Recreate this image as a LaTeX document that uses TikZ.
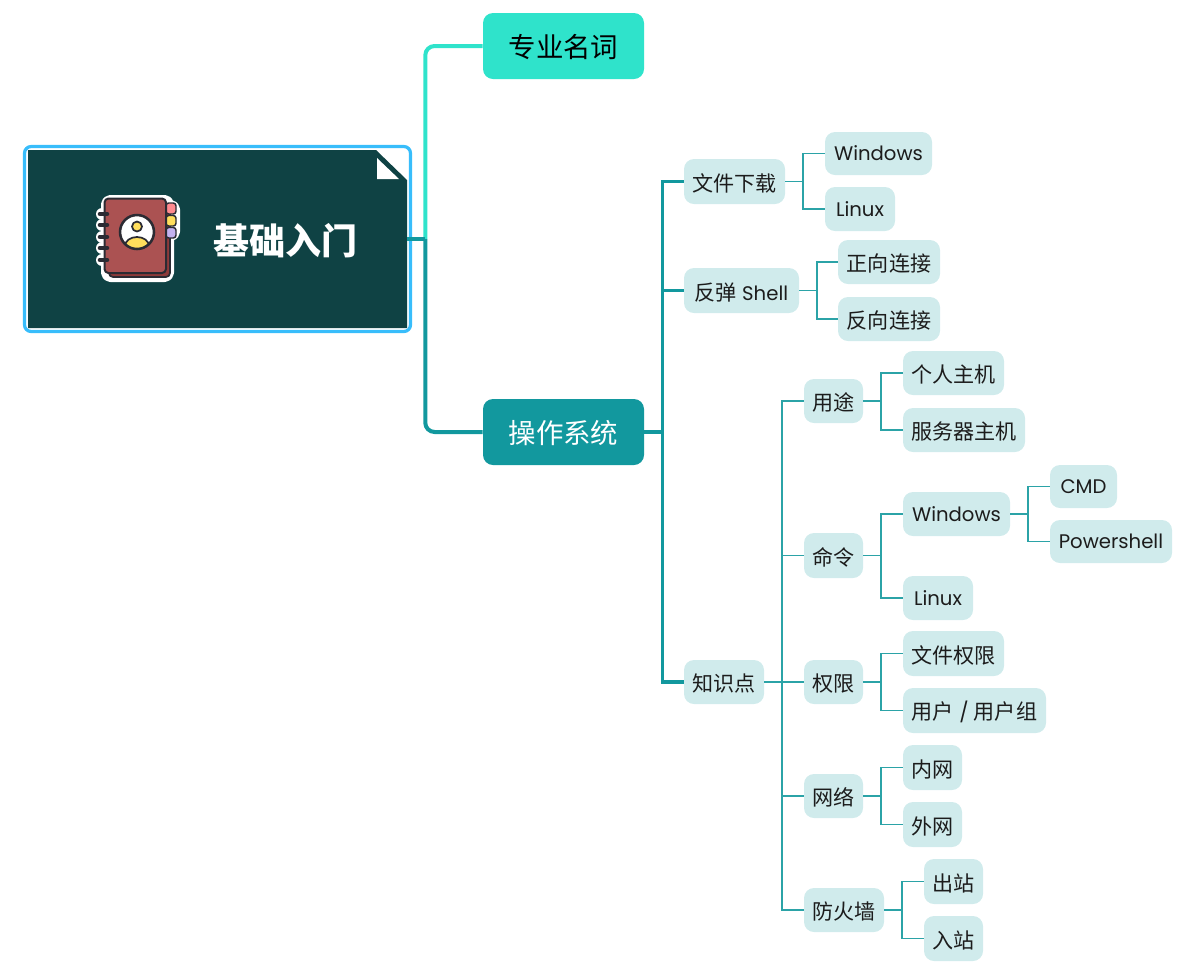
\documentclass[tikz,border=0pt]{standalone}
\usepackage{fontspec}
\setmainfont{Poppins}[Scale=0.97]
\newfontfamily\cjk{Noto Sans CJK SC}
\definecolor{rootbg}{HTML}{0F4244}
\definecolor{rootedge}{HTML}{38BDFB}
\definecolor{topicA}{HTML}{2FE3CB}
\definecolor{topicB}{HTML}{12989E}
\definecolor{leaffill}{HTML}{D0EBEC}
\definecolor{leafline}{HTML}{2BA3A7}
\definecolor{leaftext}{HTML}{1C1C1C}
\definecolor{bookred}{HTML}{AB5252}
\definecolor{bookback}{HTML}{8E3A3A}
\definecolor{bookdark}{HTML}{2B2B33}
\definecolor{tabpink}{HTML}{FF8A8F}
\definecolor{tabyellow}{HTML}{FFDE5C}
\definecolor{tabviolet}{HTML}{C4B2F0}
\newcommand\boxnode[7][leaf]{%
  \pgfmathsetmacro\bw{(#5-#3)*0.75}%
  \pgfmathsetmacro\bh{(#6-#4)*0.75}%
  \node[#1,minimum width=\bw pt,minimum height=\bh pt] (#2) at ({(#3+#5)/2},{(#4+#6)/2}) {#7};}
\newcommand\zh[1]{{\cjk\fontsize{15.8pt}{18pt}\selectfont\rule{0pt}{16.2pt}#1}}
\tikzset{
  x=0.75pt,y=-0.75pt,
  leaf/.style={fill=leaffill,rounded corners=7.5pt,inner sep=0pt,text=leaftext,font=\fontsize{15.2pt}{18pt}\selectfont},
  topic/.style={rounded corners=7.5pt,inner sep=0pt,text height=20.8pt,text depth=3pt,font=\cjk\fontsize{20.6pt}{24pt}\selectfont},
  stubline/.style={line width=3pt,color=topicB},
  bigline/.style={line width=3pt,rounded corners=7pt},
  midline/.style={line width=2.6pt,color=topicB},
  thinline/.style={line width=1.4pt,color=leafline},
}
\begin{document}
\begin{tikzpicture}
\useasboundingbox (0,0) rectangle (1204,976);
% root card
\draw[rootedge,line width=2.4pt,fill=white,rounded corners=5pt] (24.5,146.5) rectangle (410.5,331.5);
\fill[rootbg] (28,150) -- (376,150) -- (407,180) -- (407,328) -- (28,328) -- cycle;
\fill[white] (377,158) -- (377,179) -- (399,179) -- cycle;
\node[minimum width=284.25pt,minimum height=133.5pt,inner sep=0pt] (root) at (217.5,239) {};
\node[text=white,inner sep=0pt,font=\cjk\bfseries\fontsize{27pt}{32pt}\selectfont] (rootlabel) at (285,241) {基础入门};
% book icon
\begin{scope}[line join=round,line cap=round]
  \begin{scope}[white,line width=6pt]
    \draw[rounded corners=4pt,fill=white] (165,204) rectangle (176,237);
    \draw[rounded corners=4pt,fill=white] (105,199) rectangle (170,278);
    \foreach \ry in {214,225,237,248,260} \draw[line width=9pt] (102,\ry) -- (106,\ry);
  \end{scope}
  \draw[bookdark,line width=1.3pt,fill=bookback,rounded corners=3pt] (109,204) rectangle (170,277);
  \draw[bookdark,line width=1.1pt,fill=tabpink,rounded corners=2pt] (166,203) rectangle (176,214);
  \draw[bookdark,line width=1.1pt,fill=tabyellow,rounded corners=2pt] (166,215.5) rectangle (176,226);
  \draw[bookdark,line width=1.1pt,fill=tabviolet,rounded corners=2pt] (166,227.5) rectangle (176,238);
  \draw[bookdark,line width=1.5pt,fill=bookred,rounded corners=3pt] (104.5,198.5) rectangle (166,273);
  \foreach \ry in {214,225,237,248,260} \draw[bookdark,line width=3.4pt] (100,\ry) -- (107,\ry);
  \fill[white] (137,232) circle (16);
  \begin{scope}
    \clip (137,232) circle (16);
    \fill[tabyellow] (137,246) ellipse (12 and 9);
    \draw[bookdark,line width=1.3pt] (137,246) ellipse (12 and 9);
  \end{scope}
  \draw[tabyellow,fill=tabyellow] (137,226.5) circle (4.5);
  \draw[bookdark,line width=1.3pt] (137,226.5) circle (5);
  \draw[bookdark,line width=1.9pt] (137,232) circle (17);
\end{scope}
% main topics
\boxnode[topic,fill=topicA,text=black]{tspec}{483}{13}{644}{79}{专业名词}
\boxnode[topic,fill=topicB,text=white]{tos}{483}{399}{644}{465}{操作系统}
% leaves
\boxnode{dl}{684}{159}{785}{204}{\zh{文件下载}}
\boxnode{dlw}{825}{132}{932}{175}{Windows}
\boxnode{dll}{825}{187}{895}{231}{Linux}
\boxnode{sh}{684}{268}{799}{313}{\zh{反弹} Shell}
\boxnode{shf}{838}{240}{940}{284}{\zh{正向连接}}
\boxnode{shr}{838}{297}{940}{341}{\zh{反向连接}}
\boxnode{kn}{684}{660}{764}{704}{\zh{知识点}}
\boxnode{use}{804}{379}{863}{423}{\zh{用途}}
\boxnode{usep}{903}{351}{1004}{395}{\zh{个人主机}}
\boxnode{uses}{903}{408}{1025}{452}{\zh{服务器主机}}
\boxnode{cmd}{804}{533}{863}{578}{\zh{命令}}
\boxnode{cmdw}{903}{492}{1010}{536}{Windows}
\boxnode{cmdc}{1050}{465}{1117}{508}{CMD}
\boxnode{cmdp}{1050}{520}{1172}{563}{Powershell}
\boxnode{cmdl}{903}{576}{973}{620}{Linux}
\boxnode{perm}{804}{660}{863}{704}{\zh{权限}}
\boxnode{permf}{903}{631}{1004}{676}{\zh{文件权限}}
\boxnode{permu}{903}{688}{1046}{733}{\zh{用户} / \zh{用户组}}
\boxnode{net}{804}{774}{863}{818}{\zh{网络}}
\boxnode{neti}{903}{745}{962}{790}{\zh{内网}}
\boxnode{nete}{903}{802}{962}{847}{\zh{外网}}
\boxnode{fw}{804}{888}{884}{932}{\zh{防火墙}}
\boxnode{fwo}{924}{859}{983}{904}{\zh{出站}}
\boxnode{fwi}{924}{916}{983}{961}{\zh{入站}}
% connectors
\path (root.east) ++(18,0) coordinate (hub);
\path (tos.east) ++(18,0) coordinate (oshub);
\draw[bigline,topicA] (hub) |- (tspec.west);
\draw[bigline,topicB] (hub) |- (tos.west);
\draw[stubline] (root.east) -- (hub);
\draw[midline] (tos.east) -- (oshub) |- (dl.west);
\draw[midline] (tos.east) -- (oshub) |- (sh.west);
\draw[midline] (tos.east) -- (oshub) |- (kn.west);
\foreach \a/\b in {dl/dlw,dl/dll} \draw[thinline] (\a.east) -- ++(18,0) |- (\b.west);
\foreach \a/\b in {sh/shf,sh/shr} \draw[thinline] (\a.east) -- ++(18,0) |- (\b.west);
\foreach \b in {use,cmd,perm,net,fw} \draw[thinline] (kn.east) -- ++(18,0) |- (\b.west);
\foreach \a/\b in {use/usep,use/uses,cmd/cmdw,cmd/cmdl,cmdw/cmdc,cmdw/cmdp,perm/permf,perm/permu,net/neti,net/nete,fw/fwo,fw/fwi} \draw[thinline] (\a.east) -- ++(18,0) |- (\b.west);
\end{tikzpicture}
\end{document}
